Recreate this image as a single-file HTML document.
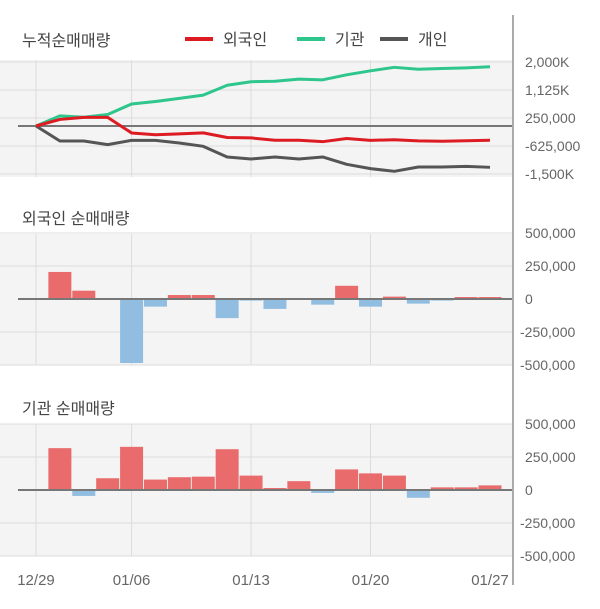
<!DOCTYPE html>
<html><head><meta charset="utf-8"><style>
body{margin:0;background:#fff;font-family:"Liberation Sans","Noto Sans CJK KR",sans-serif;}
svg text{font-family:"Liberation Sans","Noto Sans CJK KR",sans-serif;}
</style></head><body>
<svg id="c" width="600" height="604" xmlns="http://www.w3.org/2000/svg"></svg>
<script>
const dates = ["12/29","01/06","01/13","01/20","01/27"];
const dateIdx = [0,4,9,14,19];
const foreignCum = [0,205,268,268,-217,-275,-245,-215,-360,-372,-447,-447,-490,-390,-448,-430,-465,-477,-462,-447];
const instCum = [0,317,272,361,688,767,864,965,1274,1383,1398,1465,1443,1599,1725,1834,1775,1795,1815,1850];
const indivCum = [0,-469,-469,-583,-448,-448,-531,-635,-968,-1030,-968,-1030,-968,-1198,-1333,-1416,-1281,-1281,-1260,-1291];
const foreignDaily = [null,205,63,0,-485,-58,30,30,-145,-12,-75,0,-43,100,-58,18,-35,-12,15,15];
const instDaily = [null,317,-45,89,327,79,97,101,309,109,15,67,-22,156,126,109,-59,20,20,35];
const topTicks = [2000,1125,250,-625,-1500];
const topTickLabels = ["2,000K","1,125K","250,000","-625,000","-1,500K"];
const barTicks = [500,250,0,-250,-500];
const barTickLabels = ["500,000","250,000","0","-250,000","-500,000"];

const svg=document.getElementById('c');
const NS="http://www.w3.org/2000/svg";
function mk(t,a,p){const e=document.createElementNS(NS,t);for(const k in a)e.setAttribute(k,a[k]);(p||svg).appendChild(e);return e;}
const x0=36,step=(490-36)/19,AX=513;
const X=i=>x0+i*step;
const yTop=v=>126-(v)*28/875;
const yMid=v=>299-v*33/250;
const yBot=v=>490-v*33/250;

// panels
let p;
p=mk('rect',{x:0,y:60,width:AX,height:117,fill:'#f4f4f4'});


p=mk('rect',{x:0,y:234,width:AX,height:131,fill:'#f4f4f4'});


p=mk('rect',{x:0,y:424,width:AX,height:132,fill:'#f4f4f4'});



function gridV(y1,y2){dateIdx.slice(0,4).forEach(i=>{mk('line',{x1:X(i),x2:X(i),y1:y1,y2:y2,stroke:'#dcdcdc','stroke-width':1});});}
gridV(60,177);gridV(234,365);gridV(424,556);

topTicks.forEach((v,i)=>{const y=yTop(v);
 mk('line',{x1:0,x2:AX,y1:y,y2:y,stroke:'#dcdcdc'});
 const t=mk('text',{x:525,y:y+5,'font-size':14,fill:'#666'});t.textContent=topTickLabels[i];
 
 });
[[yMid,'mid'],[yBot,'bot']].forEach(([f,n])=>{barTicks.forEach((v,i)=>{const y=f(v);
 if(v!==0)mk('line',{x1:0,x2:AX,y1:y,y2:y,stroke:'#dcdcdc'});
 const t=mk('text',{x:v===0?525:(v>0?525:520),y:y+5,'font-size':14,fill:'#666'});t.textContent=barTickLabels[i];
 
 });});

// bars
function bars(arr,f,name){arr.forEach((v,i)=>{if(v===null||v===0)return;const y=f(v),z=f(0);
 const r=mk('rect',{x:X(i)-11.5,y:Math.min(y,z),width:23,height:Math.abs(z-y),fill:v>0?'#e96b6b':'#91bde0'});
 
 });}
bars(foreignDaily,yMid,'foreign');
bars(instDaily,yBot,'institution');

// zero lines
mk('line',{x1:18,x2:AX,y1:yTop(0),y2:yTop(0),stroke:'#777','stroke-width':2});
mk('line',{x1:18,x2:AX,y1:yMid(0),y2:yMid(0),stroke:'#777','stroke-width':2});
mk('line',{x1:18,x2:AX,y1:yBot(0),y2:yBot(0),stroke:'#777','stroke-width':2});

// lines
function line(arr,col,name){const l=mk('polyline',{points:arr.map((v,i)=>X(i)+','+yTop(v)).join(' '),fill:'none',stroke:col,'stroke-width':3,'stroke-linejoin':'round'});
 
 }
line(instCum,'#2ec68c','institution-line');
line(indivCum,'#555555','individual-line');
line(foreignCum,'#dc1c22','foreign-line');

// axis
mk('line',{x1:AX,x2:AX,y1:15,y2:585,stroke:'#aaa','stroke-width':2});

// x labels
dateIdx.forEach((i,k)=>{const t=mk('text',{x:X(i),y:585,'font-size':15,fill:'#666','text-anchor':'middle'});t.textContent=dates[k];
 
 });

// titles
function title(s,x,y,n){const t=mk('text',{x:x,y:y,'font-size':16,fill:'#444'});t.textContent=s;
 
 }
title('누적순매매량',22,46,'cumulative-title');
title('외국인 순매매량',22,224,'foreign-title');
title('기관 순매매량',22,414,'institution-title');

// legend
[['외국인','#dc1c22',185],['기관','#2ec68c',297],['개인','#555555',380]].forEach(([s,c,x])=>{
 const g=mk('g',{});
 
 
 mk('rect',{x:x,y:37,width:28,height:4,fill:c},g);
 const t=mk('text',{x:x+38,y:45,'font-size':16,fill:'#444'},g);t.textContent=s;});
</script>
</body></html>
